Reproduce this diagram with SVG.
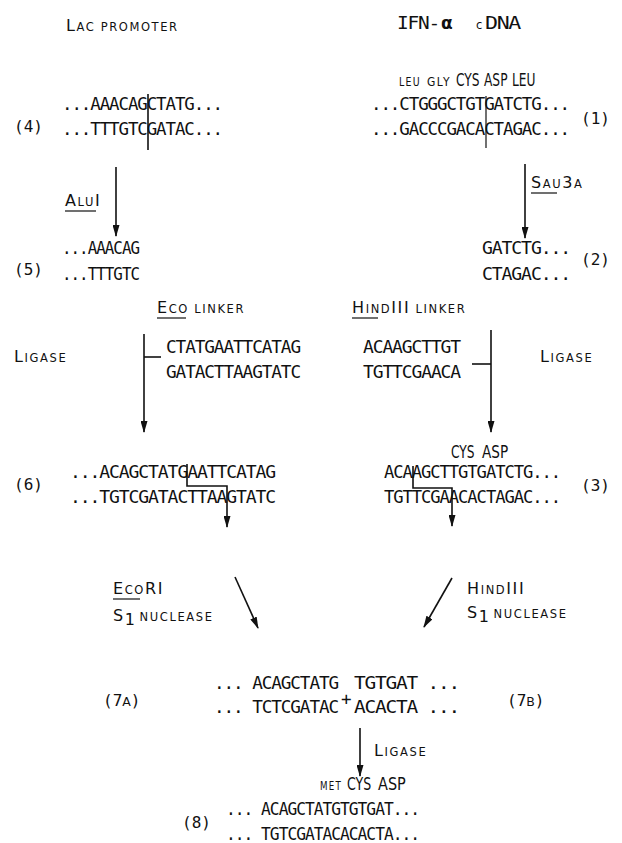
<svg xmlns="http://www.w3.org/2000/svg" width="622" height="843" viewBox="0 0 622 843">
<style>
.seq{font-family:"DejaVu Sans Mono","Liberation Mono",monospace;font-size:17.5px;letter-spacing:-1.1px;fill:#111}
.aa{font-family:"DejaVu Sans",sans-serif;font-size:17px;fill:#111}
.lbl{font-family:"DejaVu Sans",sans-serif;font-size:11.5px;letter-spacing:1.6px;fill:#111}
.big{font-size:16px}
.num{font-family:"DejaVu Sans Mono","Liberation Mono",monospace;font-size:16px;fill:#111}
.ln{stroke:#111;stroke-width:1.6;fill:none}
.thin{stroke:#111;stroke-width:1.2;fill:none}
</style>
<defs>
<marker id="ah" viewBox="0 0 12 7" refX="11" refY="3.5" markerWidth="12" markerHeight="7" orient="auto" markerUnits="userSpaceOnUse">
<path d="M0,0 L12,3.5 L0,7 z" fill="#111"/>
</marker>
</defs>
<rect width="622" height="843" fill="#fff"/>

<g id="title-lac">
<text class="lbl" x="66" y="31"><tspan class="big">L</tspan>AC PROMOTER</text>
</g>
<g id="title-ifn">
<text class="seq" x="397" y="29" textLength="42" lengthAdjust="spacingAndGlyphs">IFN-</text>
<text class="aa" x="441" y="29" font-weight="bold" font-size="18">α</text>
<text class="lbl" x="476" y="29" letter-spacing="0">c</text>
<text class="seq" x="485" y="29" textLength="35" lengthAdjust="spacingAndGlyphs">DNA</text>
</g>

<g id="node-4">
<text class="num" x="14" y="132">(4)</text>
<text class="seq" x="62" y="110" textLength="160" lengthAdjust="spacingAndGlyphs">...AAACAGCTATG...</text>
<text class="seq" x="62" y="135" textLength="160" lengthAdjust="spacingAndGlyphs">...TTTGTCGATAC...</text>
<line class="ln" x1="148" y1="94" x2="148" y2="150"/>
</g>

<g id="node-1">
<text class="lbl" x="399" y="86" letter-spacing="0.3" textLength="22" lengthAdjust="spacingAndGlyphs">LEU</text>
<text class="lbl" x="427" y="86" letter-spacing="0.3" textLength="24" lengthAdjust="spacingAndGlyphs">GLY</text>
<text class="aa" transform="translate(456,86) scale(0.72,1)">CYS</text>
<text class="aa" transform="translate(484,86) scale(0.72,1)">ASP</text>
<text class="aa" transform="translate(512,86) scale(0.72,1)">LEU</text>
<text class="seq" x="371" y="110" textLength="198" lengthAdjust="spacingAndGlyphs">...CTGGGCTGTGATCTG...</text>
<text class="seq" x="371" y="135" textLength="198" lengthAdjust="spacingAndGlyphs">...GACCCGACACTAGAC...</text>
<line class="thin" x1="486" y1="96" x2="486" y2="148"/>
<text class="num" x="581" y="124">(1)</text>
</g>

<g id="label-alui">
<text class="lbl" x="65" y="206"><tspan class="big">A</tspan>LU<tspan class="big">I</tspan></text>
<line class="thin" x1="65" y1="211" x2="96" y2="211"/>
</g>
<g id="label-sau3a">
<text class="lbl" x="531" y="188"><tspan class="big">S</tspan>AU<tspan class="big">3</tspan>A</text>
<line class="thin" x1="531" y1="193" x2="557" y2="193"/>
</g>

<g id="node-5">
<text class="num" x="14" y="275">(5)</text>
<text class="seq" x="62" y="254" textLength="77" lengthAdjust="spacingAndGlyphs">...AAACAG</text>
<text class="seq" x="62" y="280" textLength="77" lengthAdjust="spacingAndGlyphs">...TTTGTC</text>
</g>

<g id="node-2">
<text class="seq" x="482" y="254" textLength="88" lengthAdjust="spacingAndGlyphs">GATCTG...</text>
<text class="seq" x="482" y="280" textLength="88" lengthAdjust="spacingAndGlyphs">CTAGAC...</text>
<text class="num" x="581" y="265">(2)</text>
</g>

<g id="eco-linker">
<text class="lbl" x="157" y="313"><tspan class="big">E</tspan>CO LINKER</text>
<line class="thin" x1="157" y1="318" x2="186" y2="318"/>
<text class="seq" x="166" y="353" textLength="134" lengthAdjust="spacingAndGlyphs">CTATGAATTCATAG</text>
<text class="seq" x="166" y="378" textLength="134" lengthAdjust="spacingAndGlyphs">GATACTTAAGTATC</text>
</g>

<g id="hind-linker">
<text class="lbl" x="352" y="313"><tspan class="big">H</tspan>IND<tspan class="big">III</tspan> LINKER</text>
<line class="thin" x1="352" y1="318" x2="378" y2="318"/>
<text class="seq" x="363" y="353" textLength="97" lengthAdjust="spacingAndGlyphs">ACAAGCTTGT</text>
<text class="seq" x="363" y="378" textLength="97" lengthAdjust="spacingAndGlyphs">TGTTCGAACA</text>
</g>

<g id="label-ligase-left">
<text class="lbl" x="14" y="362"><tspan class="big">L</tspan>IGASE</text>
</g>
<g id="label-ligase-right">
<text class="lbl" x="540" y="362"><tspan class="big">L</tspan>IGASE</text>
</g>

<g id="node-6">
<text class="num" x="14" y="490">(6)</text>
<text class="seq" x="70" y="478" textLength="205" lengthAdjust="spacingAndGlyphs">...ACAGCTATGAATTCATAG</text>
<text class="seq" x="70" y="503" textLength="205" lengthAdjust="spacingAndGlyphs">...TGTCGATACTTAAGTATC</text>
</g>

<g id="node-3">
<text class="aa" transform="translate(451,458) scale(0.72,1)">CYS</text>
<text class="aa" transform="translate(482,458) scale(0.8,1)">ASP</text>
<text class="seq" x="384" y="478" textLength="176" lengthAdjust="spacingAndGlyphs">ACAAGCTTGTGATCTG...</text>
<text class="seq" x="384" y="503" textLength="176" lengthAdjust="spacingAndGlyphs">TGTTCGAACACTAGAC...</text>
<text class="num" x="581" y="491">(3)</text>
</g>

<g id="label-ecori">
<text class="lbl" x="113" y="594"><tspan class="big">E</tspan>CO<tspan class="big">RI</tspan></text>
<line class="thin" x1="113" y1="599" x2="140" y2="599"/>
<text class="lbl" x="113" y="621"><tspan class="big">S</tspan><tspan class="big" dy="4">1</tspan><tspan dx="3" dy="-4">NUCLEASE</tspan></text>
</g>
<g id="label-hindiii">
<text class="lbl" x="467" y="594"><tspan class="big">H</tspan>IND<tspan class="big">III</tspan></text>
<text class="lbl" x="467" y="618"><tspan class="big">S</tspan><tspan class="big" dy="4">1</tspan><tspan dx="3" dy="-4">NUCLEASE</tspan></text>
</g>

<g id="node-7a">
<text class="num" x="103" y="706" font-size="17">(7<tspan font-size="12.5" font-family="DejaVu Sans, sans-serif">A</tspan>)</text>
<text class="seq" x="214" y="689" textLength="124" lengthAdjust="spacingAndGlyphs">... ACAGCTATG</text>
<text class="seq" x="214" y="713" textLength="124" lengthAdjust="spacingAndGlyphs">... TCTCGATAC</text>
</g>
<g id="plus">
<text class="seq" x="341" y="705" font-size="14" letter-spacing="0">+</text>
</g>
<g id="node-7b">
<text class="seq" x="354" y="689" textLength="105" lengthAdjust="spacingAndGlyphs">TGTGAT ...</text>
<text class="seq" x="354" y="713" textLength="105" lengthAdjust="spacingAndGlyphs">ACACTA ...</text>
<text class="num" x="507" y="706" font-size="17">(7<tspan font-size="12.5" font-family="DejaVu Sans, sans-serif">B</tspan>)</text>
</g>

<g id="label-ligase-bottom">
<text class="lbl" x="374" y="756"><tspan class="big">L</tspan>IGASE</text>
</g>

<g id="node-8">
<text class="lbl" x="320" y="790" letter-spacing="0.3" textLength="22" lengthAdjust="spacingAndGlyphs">MET</text>
<text class="aa" transform="translate(347,790) scale(0.74,1)">CYS</text>
<text class="aa" transform="translate(378,790) scale(0.85,1)">ASP</text>
<text class="seq" x="226" y="815" textLength="193" lengthAdjust="spacingAndGlyphs">... ACAGCTATGTGTGAT...</text>
<text class="seq" x="226" y="840" textLength="193" lengthAdjust="spacingAndGlyphs">... TGTCGATACACACTA...</text>
<text class="num" x="182" y="828">(8)</text>
</g>

<g id="connectors">
<line class="ln" x1="116" y1="167" x2="116" y2="236" marker-end="url(#ah)"/>
<line class="ln" x1="525" y1="164" x2="525" y2="238" marker-end="url(#ah)"/>
<line class="ln" x1="144" y1="334" x2="144" y2="432" marker-end="url(#ah)"/>
<line class="ln" x1="144" y1="357" x2="161" y2="357"/>
<line class="ln" x1="491" y1="330" x2="491" y2="432" marker-end="url(#ah)"/>
<line class="ln" x1="472" y1="364" x2="491" y2="364"/>
<path class="ln" d="M187,464 V486 H227 V527" marker-end="url(#ah)"/>
<path class="ln" d="M413,466 V488 H452 V526" marker-end="url(#ah)"/>
<line class="ln" x1="235" y1="577" x2="258" y2="628" marker-end="url(#ah)"/>
<line class="ln" x1="452" y1="578" x2="424" y2="627" marker-end="url(#ah)"/>
<line class="ln" x1="360" y1="728" x2="360" y2="776" marker-end="url(#ah)"/>
</g>
</svg>
